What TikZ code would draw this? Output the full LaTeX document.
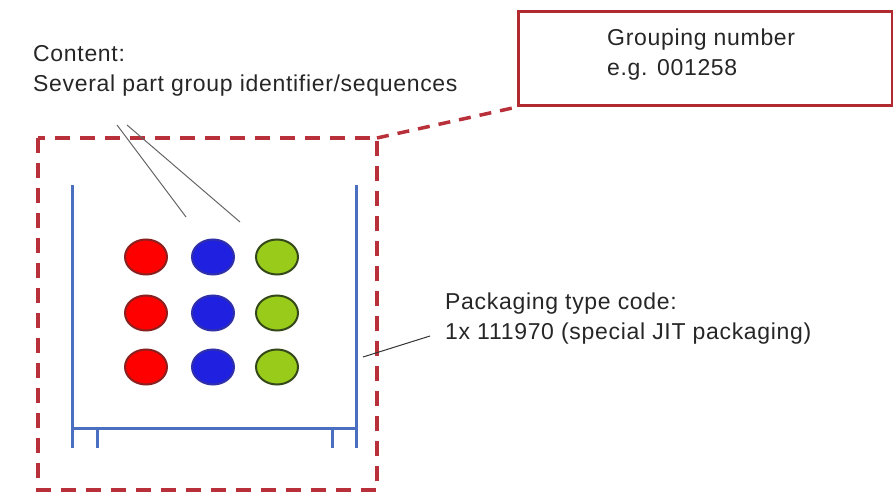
\documentclass[tikz,border=0pt]{standalone}
\usepackage{fontspec}
\usetikzlibrary{shapes.geometric}
\setmainfont{Liberation Sans}[LetterSpace=3]
\definecolor{dashcol}{HTML}{B8303A}
\definecolor{boxcol}{HTML}{B02A30}
\definecolor{wallcol}{HTML}{4A6FC0}
\definecolor{greenfill}{HTML}{99CC1A}
\definecolor{greenline}{HTML}{34481A}
\definecolor{bluefill}{HTML}{2020E0}
\definecolor{blueline}{HTML}{3030A8}
\definecolor{redline}{HTML}{8A2020}
\begin{document}
\begin{tikzpicture}[x=1pt,y=-1pt,
  lbl/.style={anchor=north west,inner sep=0pt,align=left,text=black!85,
    font=\fontsize{23}{30}\selectfont},
  dashred/.style={draw=dashcol,line width=3.5pt,dash pattern=on 15pt off 10pt},
  bluewall/.style={draw=wallcol,line width=3pt},
  leader/.style={draw=black!60,line width=1pt},
  dot/.style={ellipse,minimum width=42pt,minimum height=35pt,inner sep=0pt,line width=2pt},
  reddot/.style={dot,fill=red,draw=redline},
  bluedot/.style={dot,fill=bluefill,draw=blueline},
  greendot/.style={dot,fill=greenfill,draw=greenline}]
\useasboundingbox (0,0) rectangle (893,497);
% dashed grouping box
\coordinate (gtl) at (38,138);
\coordinate (gbr) at (377,490);
\draw[dashred] (gtl) rectangle (gbr);
\coordinate (gtr) at (377,138);
% grouping number box
\node[draw=boxcol,line width=3pt,minimum width=374pt,minimum height=94pt,anchor=north west,inner sep=0pt] (gbox) at (517,10) {};
\node[lbl] (gtext) at (607,29) {Grouping number\\e.g. 001258};
\draw[dashred,dash pattern=on 12pt off 9pt] (gtr) -- (gbox.south west);
% container
\coordinate (lt) at (72,185); \coordinate (lb) at (72,448);
\coordinate (rt) at (356,185); \coordinate (rb) at (356,448);
\coordinate (fl) at (72,428); \coordinate (fr) at (356,428);
\coordinate (f1t) at (97,428); \coordinate (f1b) at (97,448);
\coordinate (f2t) at (332,428); \coordinate (f2b) at (332,448);
\draw[bluewall] (lt) -- (lb);
\draw[bluewall] (rt) -- (rb);
\draw[bluewall] (fl) -- (fr);
\draw[bluewall] (f1t) -- (f1b);
\draw[bluewall] (f2t) -- (f2b);
% dots
\foreach \r/\y in {1/257,2/313,3/367}{
  \node[reddot] (r\r) at (146,\y) {};
  \node[bluedot] (b\r) at (213,\y) {};
  \node[greendot] (g\r) at (277,\y) {};
}
% content label
\node[lbl] (content) at (33,45) {Content:\\Several part group identifier/sequences};
\coordinate (c1) at (117,125); \coordinate (c2) at (127,125);
\coordinate (c1e) at (186,217); \coordinate (c2e) at (240,222);
\draw[leader] (c1) -- (c1e);
\draw[leader] (c2) -- (c2e);
% packaging label
\node[lbl] (pack) at (445,293) {Packaging type code:\\1x 111970 (special JIT packaging)};
\coordinate (pw) at (363,357);
\coordinate (pe) at (430,336);
\draw[draw=black!80,line width=1pt] (pw) -- (pe);
\end{tikzpicture}
\end{document}
